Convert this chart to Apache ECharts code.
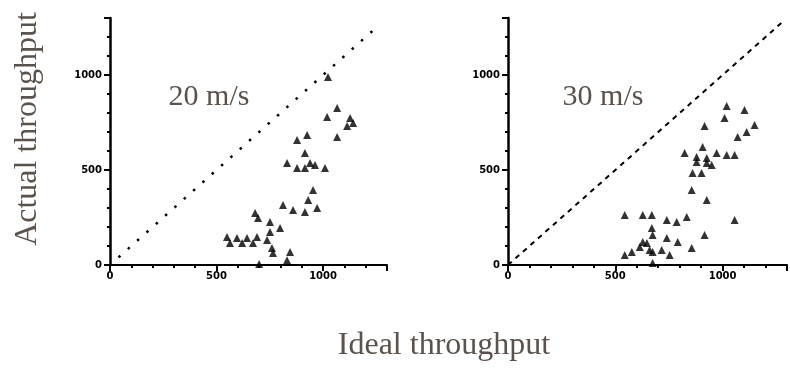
<!DOCTYPE html>
<html>
<head>
<meta charset="utf-8">
<script src="https://cdn.jsdelivr.net/npm/echarts@6/dist/echarts.min.js"></script>
<style>html,body{margin:0;padding:0;background:#fff;}#c{width:790px;height:369px;}</style>
</head>
<body>
<div id="c"></div>
<script>
// Panel titles and axis titles
var panelTitles = ['20 m/s', '30 m/s'];
var xTitle = 'Ideal throughput';
var yTitle = 'Actual throughput';
var tickLabels = [0, 500, 1000];

// 20 m/s measurements [ideal, actual]
var data20 = [
  [1023,989],
  [1066,826],[1019,779],[1127,774],[1141,747],[1113,732],[1066,674],
  [925,684],[878,658],[915,589],[831,537],[878,510],[915,510],[962,526],[1009,510],[939,537],
  [953,395],[930,342],[812,316],[859,289],[915,279],[972,300],
  [681,274],[695,247],[751,226],[798,195],[751,174],
  [549,147],[596,142],[643,142],[690,147],[737,132],
  [563,116],[620,116],[671,116],[760,89],[765,63],[845,68],[831,25],[700,5]
];
// 30 m/s measurements [ideal, actual]
var data30 = [
  [1019,837],[1009,774],[1102,816],[1149,737],[1112,700],[1070,674],[916,732],
  [907,621],[823,589],[879,568],[926,563],[972,589],[1019,579],[1056,579],
  [926,537],[949,526],[879,542],[860,484],[902,484],[856,395],[926,342],[1056,237],[916,158],
  [544,263],[628,263],[670,263],[740,237],[786,226],[833,253],
  [670,195],[674,158],[740,142],[791,121],[628,121],[614,95],[647,116],[577,68],[544,53],
  [674,68],[660,79],[716,79],[753,53],[856,89],[674,11]
];
// ideal (y = x) reference lines
var diag20 = [[40,40],[1250,1250]];
var diag30 = [[0,0],[1280,1280]];

var chart = echarts.init(document.getElementById('c'));
var textColor = '#5b524b';
function xAx(i){
  return {
    gridIndex:i, type:'value', min:0, max:1300, interval:500,
    axisLine:{show:true, onZero:false, lineStyle:{color:'#000', width:2}},
    axisTick:{show:true, length:6, lineStyle:{color:'#000', width:2}},
    minorTick:{show:true, splitNumber:5, length:3, lineStyle:{color:'#000', width:2}},
    splitLine:{show:false},
    axisLabel:{color:'#000', fontSize:10, fontWeight:'bold', fontFamily:'DejaVu Sans', margin:6,
      showMaxLabel:false,
      formatter:function(v){return tickLabels.indexOf(v)>=0 ? String(v) : '';}}
  };
}
function yAx(i){
  return {
    gridIndex:i, type:'value', min:0, max:1300, interval:500,
    axisLine:{show:true, onZero:false, lineStyle:{color:'#000', width:2.5}},
    axisTick:{show:true, length:6, lineStyle:{color:'#000', width:2}},
    minorTick:{show:true, splitNumber:5, length:3, lineStyle:{color:'#000', width:2}},
    splitLine:{show:false},
    axisLabel:{color:'#000', fontSize:10, fontWeight:'bold', fontFamily:'DejaVu Sans', margin:8,
      showMaxLabel:false,
      formatter:function(v){return tickLabels.indexOf(v)>=0 ? String(v) : '';}}
  };
}
chart.setOption({
  animation:false,
  backgroundColor:'#fff',
  grid:[
    {left:110, top:18, width:277, height:247},
    {left:508, top:18, width:279, height:247}
  ],
  xAxis:[xAx(0), xAx(1)],
  yAxis:[yAx(0), yAx(1)],
  graphic:[
    {type:'text', x:209, y:97, style:{text:panelTitles[0], font:'30px "Liberation Serif"', fill:textColor, align:'center', verticalAlign:'middle'}},
    {type:'text', x:603, y:97, style:{text:panelTitles[1], font:'30px "Liberation Serif"', fill:textColor, align:'center', verticalAlign:'middle'}},
    {type:'text', x:444, y:346, style:{text:xTitle, font:'32px "Liberation Serif"', fill:textColor, align:'center', verticalAlign:'middle'}},
    {type:'text', x:28, y:129, rotation:Math.PI/2, style:{text:yTitle, font:'32px "Liberation Serif"', fill:textColor, align:'center', verticalAlign:'middle'}}
  ],
  series:[
    {type:'line', xAxisIndex:0, yAxisIndex:0, data:diag20, symbol:'none',
      lineStyle:{color:'#000', width:2.5, type:[2.5,10]}},
    {type:'line', xAxisIndex:1, yAxisIndex:1, data:diag30, symbol:'none',
      lineStyle:{color:'#000', width:2, type:[5,5]}},
    {type:'scatter', xAxisIndex:0, yAxisIndex:0, data:data20, symbol:'triangle', symbolSize:8,
      itemStyle:{color:'#000'}},
    {type:'scatter', xAxisIndex:1, yAxisIndex:1, data:data30, symbol:'triangle', symbolSize:8,
      itemStyle:{color:'#000'}}
  ]
});
</script>
</body>
</html>
